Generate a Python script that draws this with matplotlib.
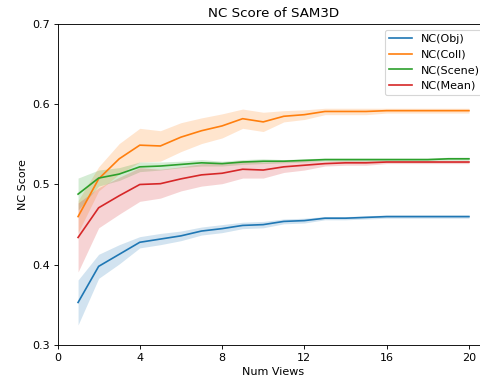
import matplotlib
matplotlib.use("Agg")
import matplotlib.pyplot as plt
import numpy as np

views = list(range(1, 21))

obj_mean = [0.353, 0.398, 0.413, 0.428, 0.432, 0.436, 0.442, 0.445, 0.449, 0.450,
            0.454, 0.455, 0.458, 0.458, 0.459, 0.460, 0.460, 0.460, 0.460, 0.460]
obj_std = [0.028, 0.015, 0.012, 0.007, 0.007, 0.006, 0.005, 0.005, 0.004, 0.004,
           0.003, 0.003, 0.002, 0.002, 0.002, 0.002, 0.002, 0.002, 0.002, 0.002]

coll_mean = [0.460, 0.507, 0.532, 0.549, 0.548, 0.559, 0.567, 0.573, 0.582, 0.578,
             0.585, 0.587, 0.591, 0.591, 0.591, 0.592, 0.592, 0.592, 0.592, 0.592]
coll_std = [0.020, 0.015, 0.019, 0.021, 0.019, 0.018, 0.016, 0.015, 0.012, 0.012,
            0.007, 0.006, 0.004, 0.004, 0.004, 0.003, 0.003, 0.003, 0.003, 0.003]

scene_mean = [0.488, 0.508, 0.513, 0.522, 0.523, 0.525, 0.527, 0.526, 0.528, 0.529,
              0.529, 0.530, 0.531, 0.531, 0.531, 0.531, 0.531, 0.531, 0.532, 0.532]
scene_std = [0.020, 0.010, 0.008, 0.006, 0.005, 0.004, 0.004, 0.003, 0.003, 0.003,
             0.002, 0.002, 0.002, 0.002, 0.002, 0.002, 0.002, 0.002, 0.002, 0.002]

mean_mean = [0.434, 0.471, 0.486, 0.500, 0.501, 0.507, 0.512, 0.514, 0.519, 0.518,
             0.522, 0.524, 0.526, 0.527, 0.527, 0.528, 0.528, 0.528, 0.528, 0.528]
mean_std = [0.043, 0.025, 0.023, 0.021, 0.018, 0.015, 0.014, 0.013, 0.011, 0.010,
            0.007, 0.006, 0.003, 0.003, 0.003, 0.002, 0.002, 0.002, 0.002, 0.002]

series = [
    ("NC(Obj)", obj_mean, obj_std, "tab:blue"),
    ("NC(Coll)", coll_mean, coll_std, "tab:orange"),
    ("NC(Scene)", scene_mean, scene_std, "tab:green"),
    ("NC(Mean)", mean_mean, mean_std, "tab:red"),
]

fig = plt.figure(figsize=(6, 4.8125), dpi=80)
ax = fig.add_axes([0.1198, 0.1039, 0.9, 0.8338])

x = np.array(views)
for label, m, s, c in series:
    m = np.array(m)
    s = np.array(s)
    ax.plot(x, m, color=c, label=label)
    ax.fill_between(x, m - s, m + s, color=c, alpha=0.2, linewidth=0)

ax.set_xlim(0, 21)
ax.set_ylim(0.3, 0.7)
ax.set_xticks([0, 4, 8, 12, 16, 20])
ax.set_yticks([0.3, 0.4, 0.5, 0.6, 0.7])
ax.set_xlabel("Num Views")
ax.set_ylabel("NC Score")
ax.set_title("NC Score of SAM3D")
ax.legend(loc="upper right")

fig.savefig("out.png", dpi=80)
